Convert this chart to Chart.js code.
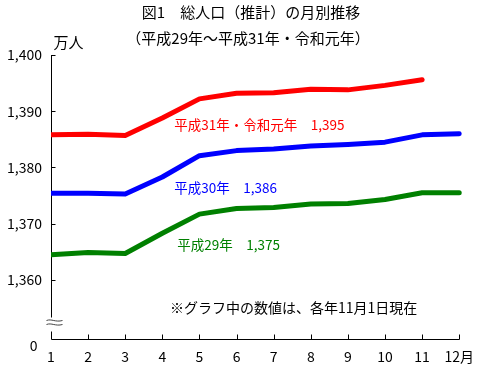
<!DOCTYPE html>
<html><head><meta charset="utf-8">
<script src="https://cdn.jsdelivr.net/npm/chart.js@4/dist/chart.umd.min.js"></script>
<style>html,body{margin:0;padding:0;background:#fff}canvas{display:block}</style>
</head><body>
<canvas id="c" width="483" height="369"></canvas>
<script>
const months = ['1','2','3','4','5','6','7','8','9','10','11','12'];
const xTickLabels = ['1','2','3','4','5','6','7','8','9','10','11','12月'];
const yTicks = [1360, 1370, 1380, 1390, 1400];
const yZeroLabel = '0';
const seriesH29 = [1364.5, 1364.9, 1364.7, 1368.3, 1371.7, 1372.7, 1372.9, 1373.5, 1373.6, 1374.3, 1375.5, 1375.5];
const seriesH30 = [1375.4, 1375.4, 1375.3, 1378.3, 1382.1, 1383.0, 1383.3, 1383.8, 1384.1, 1384.5, 1385.8, 1386.0];
const seriesH31 = [1385.8, 1385.9, 1385.7, 1388.8, 1392.2, 1393.2, 1393.3, 1393.9, 1393.8, 1394.6, 1395.6, null];
const seriesNames = ['平成29年　1,375', '平成30年　1,386', '平成31年・令和元年　1,395'];
const titleText = '図1　総人口（推計）の月別推移';
const subtitleText = '（平成29年～平成31年・令和元年）';
const unitText = '万人';
const noteText = '※グラフ中の数値は、各年11月1日現在';

const FONT = '"Noto Sans CJK JP", "Noto Sans", sans-serif';
const colors = ['#008000', '#0000ff', '#ff0000'];
// label anchors (category index, value) for series labels
const labelAnchors = [[3.4, 1366.2], [3.32, 1376.35], [3.32, 1387.55]];

const decor = {
  id: 'decor',
  beforeDatasetsDraw(chart) {
    const ctx = chart.ctx, xs = chart.scales.x, ys = chart.scales.y;
    const a = chart.chartArea;
    const ax = Math.round(a.left) + 0.5, ay = Math.round(a.bottom) + 0.5;
    ctx.save();
    ctx.strokeStyle = '#000'; ctx.lineWidth = 1;
    ctx.beginPath();
    ctx.moveTo(ax, Math.round(a.top)); ctx.lineTo(ax, ay - 22);
    ctx.moveTo(ax, ay - 8); ctx.lineTo(ax, ay);
    ctx.lineTo(Math.round(a.right) + 0.5, ay);
    yTicks.forEach(v => { const y = Math.round(ys.getPixelForValue(v)) + 0.5; ctx.moveTo(ax, y); ctx.lineTo(ax + 4, y); });
    months.forEach((m, i) => { if (i === 0) return; const x = Math.round(xs.getPixelForValue(i)) + 0.5; ctx.moveTo(x, ay); ctx.lineTo(x, ay - 5); });
    ctx.stroke();
    ctx.strokeStyle = '#444';
    ctx.beginPath();
    [ay - 19, ay - 15].forEach(y => {
      ctx.moveTo(ax - 5, y);
      ctx.bezierCurveTo(ax, y - 2, ax + 4, y + 2, ax + 11, y);
    });
    ctx.stroke();
    ctx.fillStyle = '#000';
    ctx.textBaseline = 'middle';
    ctx.font = '14px ' + FONT;
    ctx.textAlign = 'right';
    ctx.fillText(yZeroLabel, ax - 14, ay + 6);
    ctx.textAlign = 'left';
    ctx.font = '15px ' + FONT;
    ctx.fillText(unitText, ax + 2, 42);
    ctx.textAlign = 'center';
    ctx.font = '15px ' + FONT;
    ctx.fillText(titleText, 251, 12);
    ctx.fillText(subtitleText, 248, 38);
    ctx.textAlign = 'left';
    ctx.font = '14px ' + FONT;
    ctx.fillText(noteText, 170, 308);
    ctx.font = '13.5px ' + FONT;
    seriesNames.forEach((t, i) => {
      ctx.fillStyle = colors[i];
      ctx.fillText(t, xs.getPixelForValue(labelAnchors[i][0]), ys.getPixelForValue(labelAnchors[i][1]));
    });
    ctx.restore();
  }
};

const clipLeft = { left: 0, top: false, right: false, bottom: false };

new Chart(document.getElementById('c'), {
  type: 'line',
  data: {
    labels: months,
    datasets: [
      { label: seriesNames[0], data: seriesH29, borderColor: colors[0], clip: clipLeft },
      { label: seriesNames[1], data: seriesH30, borderColor: colors[1], clip: clipLeft },
      { label: seriesNames[2], data: seriesH31, borderColor: colors[2], clip: clipLeft }
    ]
  },
  options: {
    responsive: false, animation: false, devicePixelRatio: 1,
    layout: { padding: { top: 55, right: 18, left: 0, bottom: 0 } },
    elements: { point: { radius: 0 }, line: { borderWidth: 5, tension: 0, borderCapStyle: 'round', borderJoinStyle: 'round', fill: false } },
    plugins: { legend: { display: false }, tooltip: { enabled: false }, title: { display: false } },
    scales: {
      x: {
        type: 'category', offset: false,
        grid: { display: false, drawTicks: false }, border: { display: false },
        ticks: { callback: (v, i) => xTickLabels[i], color: '#000', font: { size: 14, family: FONT }, padding: 9, maxRotation: 0, autoSkip: false },
        afterFit: s => { s.height = 30; }
      },
      y: {
        min: 1349.5, max: 1400,
        afterBuildTicks: s => { s.ticks = yTicks.map(v => ({ value: v })); },
        grid: { display: false, drawTicks: false }, border: { display: false },
        ticks: { callback: v => v.toLocaleString('en-US'), color: '#000', font: { size: 14, family: FONT }, padding: 9 },
        afterFit: s => { s.width = 51; }
      }
    }
  },
  plugins: [decor]
});
</script>
</body></html>
